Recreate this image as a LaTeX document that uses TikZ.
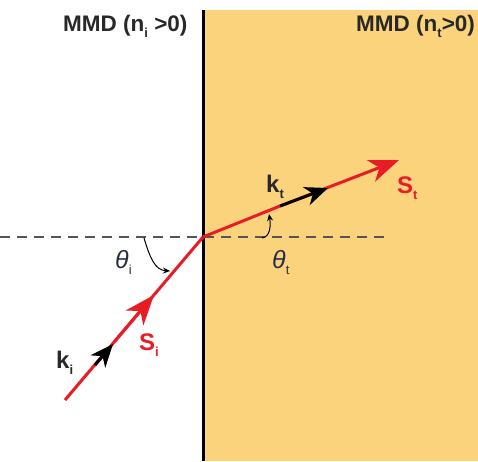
\documentclass[tikz,border=0pt]{standalone}
\usepackage{fontspec}
\setmainfont{Liberation Sans}
\usetikzlibrary{arrows.meta}
\definecolor{medium}{RGB}{252,211,125}
\definecolor{rayred}{RGB}{232,28,36}
\definecolor{txt}{RGB}{40,40,40}
\definecolor{angtxt}{RGB}{40,45,70}
\definecolor{dashgray}{RGB}{85,85,85}
\newcommand{\subtxt}[1]{\raisebox{-6pt}{\fontsize{13}{14}\selectfont #1}}
\tikzset{
  lbl/.style={font=\fontsize{22.5}{26}\selectfont\bfseries, text=txt, inner sep=0pt},
  raylbl/.style={font=\fontsize{24}{28}\selectfont\bfseries, text=rayred, inner sep=0pt},
  veclbl/.style={font=\fontsize{24}{28}\selectfont\bfseries, text=txt, inner sep=0pt},
  anglbl/.style={font=\fontsize{25}{28}\selectfont, text=angtxt, inner sep=0pt},
  ray/.style={draw=rayred, line width=3pt},
  redtip/.style={-{Stealth[length=30pt,width=23pt,inset=9pt]}, draw=rayred, fill=rayred, line width=3pt},
  blacktip/.style={-{Stealth[length=23pt,width=19pt,inset=7pt]}, draw=black, line width=3pt},
  angarrow/.style={-{Stealth[length=7pt,width=6pt]}, draw=black, line width=1pt},
}
\begin{document}
\begin{tikzpicture}[x=1pt,y=-1pt]
\useasboundingbox (0,0) rectangle (478,461);
% medium on the right
\fill[medium] (203,10) rectangle (478,461);
% interface
\draw[black, line width=3pt] (203,10) -- (203,461);
% normal (dashed)
\coordinate (N1) at (0,237);
\coordinate (N2) at (386,237);
\draw[dashgray, line width=1.6pt, dash pattern=on 10pt off 7pt] (N1) -- (N2);
% coordinates
\coordinate (O) at (203,237);
\coordinate (A) at (65,400);
\coordinate (T) at (399,160);
\coordinate (Si1) at (115,341);
\coordinate (Si2) at (154,295);
\coordinate (Ki1) at (95,365);
\coordinate (Ki2) at (113,344);
\coordinate (Kt1) at (280,206);
\coordinate (Kt2) at (328,188);
% rays
\draw[ray] (A) -- (O);
\draw[redtip] (Si1) -- (Si2);
\draw[blacktip] (Ki1) -- (Ki2);
\draw[ray] (O) -- (Kt1);
\draw[redtip] (Kt1) -- (T);
\draw[blacktip] (Kt1) -- (Kt2);
% angle arcs
\coordinate (ai1) at (144,238);
\coordinate (ai2) at (170,271);
\draw[angarrow] (ai1) .. controls (150,258) and (155,270) .. (ai2);
\coordinate (at1) at (262,238);
\coordinate (at2) at (269,214);
\draw[angarrow] (at1) .. controls (270,237) and (271,226) .. (at2);
% labels
\node[lbl, anchor=base west] (Li) at (63,31) {MMD (n\subtxt{i} >0)};
\node[lbl, anchor=base west] (Lt) at (356,31) {MMD (n\subtxt{t}>0)};
\node[veclbl, anchor=base west] (ki) at (56,368) {k\subtxt{i}};
\node[raylbl, anchor=base west] (si) at (139,350) {S\subtxt{i}};
\node[veclbl, anchor=base west] (kt) at (266,192) {k\subtxt{t}};
\node[raylbl, anchor=base west] (st) at (397,193) {S\subtxt{t}};
\node[anglbl, anchor=base west] (ti) at (115,268) {\textit{θ}\subtxt{i}};
\node[anglbl, anchor=base west] (tt) at (272,268) {\textit{θ}\subtxt{t}};
\end{tikzpicture}
\end{document}
